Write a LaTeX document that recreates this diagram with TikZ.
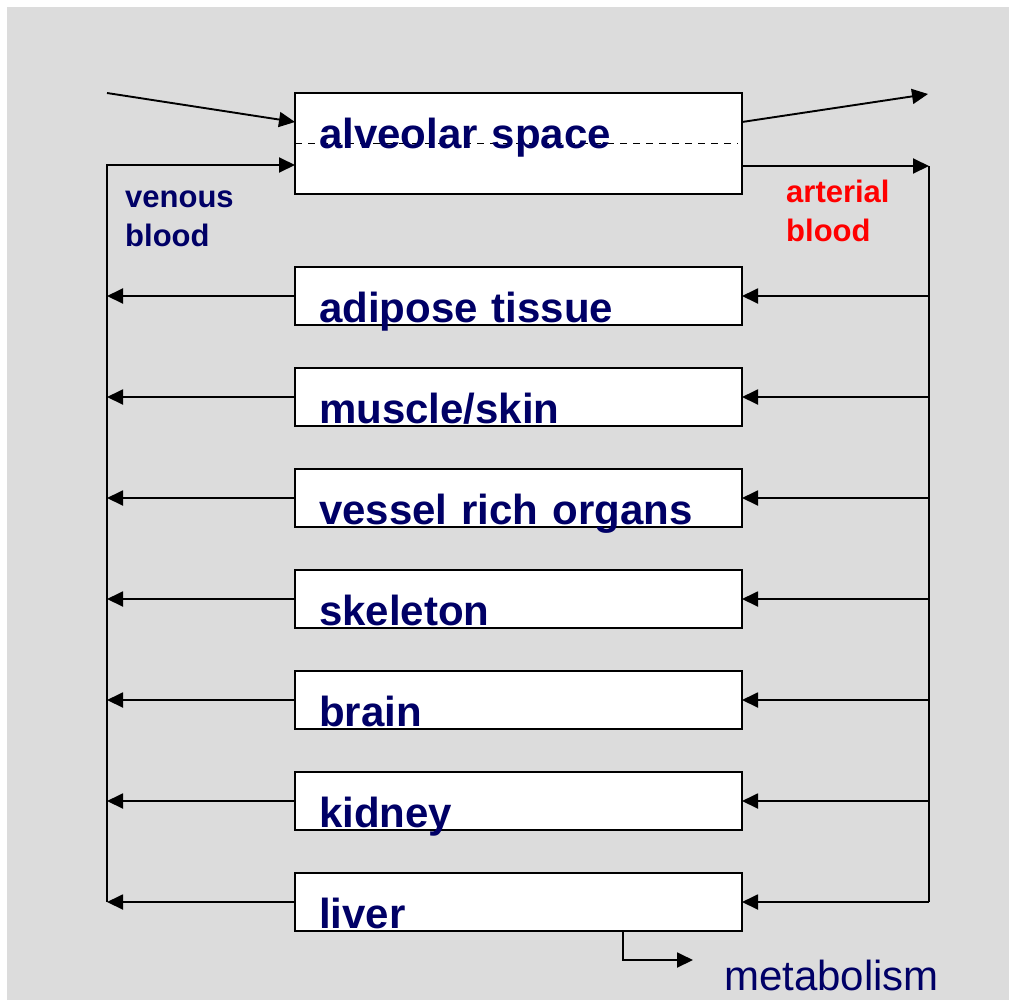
\documentclass[tikz,border=0pt]{standalone}
\usepackage{fontspec}
\setmainfont{Liberation Sans}
\usetikzlibrary{arrows.meta,positioning}
\definecolor{navytext}{RGB}{0,0,102}
\definecolor{panelgray}{RGB}{220,220,220}

\begin{document}
\begin{tikzpicture}[
    x=1pt, y=-1pt,
    node distance=43pt,
    compartment/.style={draw, line width=1.8pt, fill=white, outer sep=0pt, text width=399pt, align=left,
      inner xsep=24pt, inner ysep=1pt, text height=54pt, text depth=2pt,
      font=\fontsize{42}{50}\selectfont\bfseries, text=navytext},
    lungbox/.style={compartment, text depth=45pt,
      path picture={\draw[line width=1.4pt, dash pattern=on 7pt off 6pt]
        (path picture bounding box.west) -- ([xshift=-4pt]path picture bounding box.east);}},
    bloodlabel/.style={anchor=base west, align=left, inner sep=0pt, font=\fontsize{31}{39}\selectfont\bfseries},
    flow/.style={line width=1.9pt},
    arrow/.style={flow, -{Triangle[length=16pt, width=15pt]}},
  ]
  \useasboundingbox (0,0) rectangle (1009,999);
  \fill[panelgray] (7,7) rectangle (1012,1002);

  \node[lungbox] (alveolar) at (518.5,143.5) {alveolar space};
  \node[compartment, below=73pt of alveolar] (adipose) {adipose tissue};
  \node[compartment, below=of adipose] (muscle) {muscle/skin};
  \node[compartment, below=of muscle] (vessel) {vessel rich organs};
  \node[compartment, below=of vessel] (skeleton) {skeleton};
  \node[compartment, below=of skeleton] (brain) {brain};
  \node[compartment, below=of brain] (kidney) {kidney};
  \node[compartment, below=of kidney] (liver) {liver};

  \node[bloodlabel, text=navytext] (venous) at (125,246) {venous\\blood};
  \node[bloodlabel, text=red] (arterial) at (786,241) {arterial\\blood};

  \coordinate (inhaled) at (107,93);
  \coordinate (exhaled) at (928,94);
  \coordinate (venin) at (107,165);
  \coordinate (artout) at (929,166);
  \coordinate (metab) at (693,960);

  % breathing in and out
  \draw[arrow] (inhaled) -- ([yshift=21.5pt]alveolar.west);
  \draw[arrow] ([yshift=21.5pt]alveolar.east) -- (exhaled);

  % blood loop
  \draw[arrow] (liver.west -| venin) -- (venin) -- (venin -| alveolar.west);
  \draw[arrow] (alveolar.east |- artout) -- (artout);
  \draw[flow] (artout) -- (artout |- liver.east);
  \foreach \organ in {adipose, muscle, vessel, skeleton, brain, kidney, liver} {
    \draw[arrow] (\organ.west) -- (\organ.west -| venin);
    \draw[arrow] (\organ.east -| artout) -- (\organ.east);
  }

  \draw[arrow] ([xshift=104.5pt]liver.south) |- (metab);
  \node[anchor=base west, inner sep=0pt, font=\fontsize{42}{50}\selectfont, text=navytext] (metabolism) at (724,990) {metabolism};
\end{tikzpicture}
\end{document}
